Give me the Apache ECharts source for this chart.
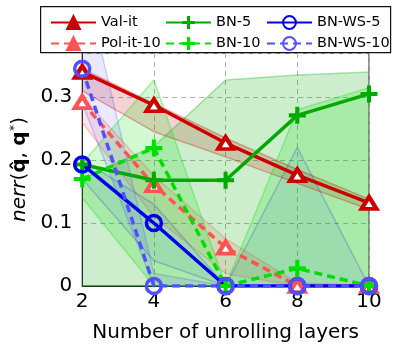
<!DOCTYPE html>
<html>
<head>
<meta charset="utf-8">
<script src="https://cdn.jsdelivr.net/npm/echarts@6/dist/echarts.min.js"></script>
<style>
html,body{margin:0;padding:0;background:#fff;}
#c{width:393px;height:349px;}
</style>
</head>
<body>
<div id="c"></div>
<script>
// ---- data ----
const xLabels = ['2', '4', '6', '8', '10'];
const yTicks = [0, 0.1, 0.2, 0.3];

const valIt    = [0.34, 0.287, 0.227, 0.176, 0.132];
const polIt10  = [0.292, 0.16, 0.061, 0, 0];
const bn5      = [0.193, 0.168, 0.168, 0.271, 0.305];
const bn10     = [0.17, 0.219, 0, 0.028, 0];
const bnWs5    = [0.193, 0.1, 0, 0, 0];
const bnWs10   = [0.345, 0, 0, 0, 0];

// shaded ranges (lower / upper)
const valItLo   = [0.31, 0.245, 0.205, 0.163, 0.122];
const valItHi   = [0.345, 0.29, 0.235, 0.185, 0.138];
const polIt10Lo = [0.26, 0.11, 0.02, 0, 0];
const polIt10Hi = [0.3, 0.175, 0.075, 0.005, 0];
const bn5Lo     = [0, 0, 0, 0, 0];
const bn5Hi     = [0.17, 0.222, 0.327, 0.335, 0.34];
const bn10Lo    = [0.14, 0, 0, 0, 0];
const bn10Hi    = [0.195, 0.327, 0, 0.28, 0.315];
const bnWs5Lo   = [0.17, 0.04, 0, 0, 0];
const bnWs5Hi   = [0.2, 0.13, 0, 0.22, 0];
const bnWs10Lo  = [0.29, 0, 0, 0, 0];
const bnWs10Hi  = [0.5, 0.02, 0, 0, 0];

const C = {
  valIt: '#cc0000', polIt: '#ff5252', bn5: '#00aa00', bn10: '#00dd00',
  ws5: '#0000ee', ws10: '#5050ff'
};

const FONT = 'DejaVu Sans';
const plusPath = 'path://M3.8,0H6.2V3.8H10V6.2H6.2V10H3.8V6.2H0V3.8H3.8Z';

function rgba(hex, a) {
  const r = parseInt(hex.slice(1,3),16), g = parseInt(hex.slice(3,5),16), b = parseInt(hex.slice(5,7),16);
  return 'rgba(' + r + ',' + g + ',' + b + ',' + a + ')';
}

function band(id, lo, hi, color, alpha, edgeA) {
  const diff = hi.map((v, i) => +(v - lo[i]).toFixed(4));
  const edge = { color: rgba(color, edgeA), width: 1.5 };
  return [
    { name: '_' + id + '_lo', type: 'line', stack: id, data: lo, symbol: 'none', silent: true,
      lineStyle: edge, z: 1 },
    { name: '_' + id + '_hi', type: 'line', stack: id, data: diff, symbol: 'none', silent: true,
      lineStyle: edge, areaStyle: { color: rgba(color, alpha) }, z: 1 }
  ];
}

function lineSeries(name, data, color, dashed, marker) {
  const s = {
    name: name, type: 'line', data: data, color: color, z: 3,
    lineStyle: { color: color, width: 3.5, type: dashed ? [8, 5] : 'solid' }
  };
  if (marker === 'tri') {
    s.symbol = 'triangle'; s.symbolSize = [15, 12];
    s.itemStyle = { color: '#fff', borderColor: color, borderWidth: 4 };
  } else if (marker === 'plus') {
    s.symbol = plusPath; s.symbolSize = 17;
    s.itemStyle = { color: color, borderWidth: 0 };
  } else {
    s.symbol = 'circle'; s.symbolSize = 15;
    s.itemStyle = { color: 'rgba(0,0,0,0)', borderColor: color, borderWidth: 3.5 };
  }
  return s;
}

const series = [].concat(
  band('valit', valItLo, valItHi, C.valIt, 0.25, 0.3),
  band('polit', polIt10Lo, polIt10Hi, C.polIt, 0.2, 0.3),
  band('bn5', bn5Lo, bn5Hi, C.bn5, 0.28, 0.3),
  band('bn10', bn10Lo, bn10Hi, C.bn10, 0.25, 0.3),
  band('ws5', bnWs5Lo, bnWs5Hi, C.ws5, 0.09, 0.2),
  band('ws10', bnWs10Lo, bnWs10Hi, C.ws10, 0.18, 0.25),
  [
    lineSeries('Val-it', valIt, C.valIt, false, 'tri'),
    lineSeries('Pol-it-10', polIt10, C.polIt, true, 'tri'),
    lineSeries('BN-5', bn5, C.bn5, false, 'plus'),
    lineSeries('BN-10', bn10, C.bn10, true, 'plus'),
    lineSeries('BN-WS-5', bnWs5, C.ws5, false, 'circle'),
    lineSeries('BN-WS-10', bnWs10, C.ws10, true, 'circle')
  ]
);

const legendBase = {
  orient: 'vertical', top: 10, itemWidth: 45, itemHeight: 16, itemGap: 6,
  textStyle: { fontFamily: FONT, fontSize: 14.5, color: '#000' }, selectedMode: false
};
function triLegend(name, color) {
  return { name: name, itemStyle: { color: color, borderColor: color, borderWidth: 2 } };
}

const chart = echarts.init(document.getElementById('c'), null, { renderer: 'canvas' });
chart.setOption({
  animation: false,
  backgroundColor: '#fff',
  textStyle: { fontFamily: FONT },
  grid: { left: 79, right: 24, top: 53, bottom: 63, show: true, borderColor: '#222', borderWidth: 1 },
  graphic: [{
    type: 'rect', z: 0, left: 40, top: 6,
    shape: { width: 350, height: 46 },
    style: { fill: '#fff', stroke: '#111', lineWidth: 1.2 }
  }],
  legend: [
    Object.assign({}, legendBase, { left: 45, data: [triLegend('Val-it', C.valIt), triLegend('Pol-it-10', C.polIt)] }),
    Object.assign({}, legendBase, { left: 160, data: ['BN-5', 'BN-10'] }),
    Object.assign({}, legendBase, { left: 261, data: ['BN-WS-5', 'BN-WS-10'] })
  ],
  xAxis: {
    type: 'category', data: xLabels, boundaryGap: false,
    axisLine: { lineStyle: { color: '#222', width: 1 } },
    axisTick: { show: false },
    axisLabel: { color: '#000', fontSize: 20, fontFamily: FONT, margin: 6 },
    splitLine: { show: true, lineStyle: { color: '#b0b0b0', type: [5, 4], width: 1 } },
    name: 'Number of unrolling layers', nameLocation: 'middle', nameGap: 37,
    nameTextStyle: { color: '#000', fontSize: 20, fontFamily: FONT }
  },
  yAxis: {
    type: 'value', min: 0, max: 0.37, interval: 0.1,
    axisLine: { show: true, lineStyle: { color: '#222', width: 1 } },
    axisTick: { show: false },
    axisLabel: { color: '#000', fontSize: 20, fontFamily: FONT, margin: 10, showMaxLabel: false,
      formatter: v => (yTicks.indexOf(+v.toFixed(2)) >= 0 ? (v === 0 ? '0' : v.toFixed(1)) : '') },
    splitLine: { show: true, lineStyle: { color: '#b0b0b0', type: [5, 4], width: 1 } },
    name: '{i|nerr}{n|(}{b|q\u0302}{n|, }{b|q}{s|*}{n|)}',
    nameLocation: 'middle', nameGap: 40, nameRotate: 90,
    nameTextStyle: {
      color: '#000', fontSize: 20, fontFamily: FONT,
      rich: {
        i: { fontStyle: 'italic', fontSize: 20, fontFamily: FONT, color: '#000' },
        n: { fontSize: 20, fontFamily: FONT, color: '#000' },
        b: { fontWeight: 'bold', fontSize: 20, fontFamily: FONT, color: '#000' },
        s: { fontSize: 13, fontFamily: FONT, color: '#000', verticalAlign: 'top', padding: [0, 0, 10, 0] }
      }
    }
  },
  series: series
});
</script>
</body>
</html>
